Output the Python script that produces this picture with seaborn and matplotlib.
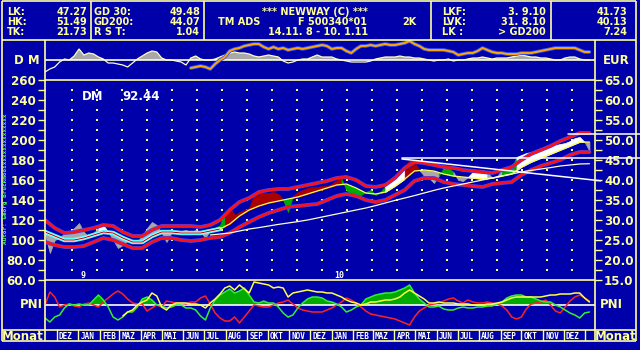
import numpy as np
import pandas as pd
import matplotlib
matplotlib.use("Agg")
import matplotlib.pyplot as plt
import matplotlib.patheffects as pe
from matplotlib.ticker import FixedLocator, FixedFormatter, MultipleLocator
import seaborn as sns

# ---------------- data ----------------
week_dates = pd.date_range("2008-11-14", periods=113, freq="7D")
fortnight_dates = pd.date_range("2008-11-14", periods=57, freq="14D")
month_starts = pd.date_range("2008-12-01", "2011-01-01", freq="MS")
month_labels = ["DEZ", "JAN", "FEB", "MAZ", "APR", "MAI", "JUN", "JUL", "AUG", "SEP", "OKT", "NOV",
                "DEZ", "JAN", "FEB", "MAZ", "APR", "MAI", "JUN", "JUL", "AUG", "SEP", "OKT", "NOV", "DEZ"]
year_labels = ["9", "10"]

price_eur = [26.25, 21.75, 25.0, 25.5, 26.75, 27.0, 28.0, 29.25, 27.0, 25.75,
             26.75, 28.0, 28.75, 27.0, 25.0, 23.0, 23.75, 24.75, 24.5, 24.75,
             26.0, 28.0, 29.5, 28.75, 26.75, 24.5, 26.75, 27.0, 27.25, 27.5,
             27.0, 27.5, 27.0, 25.5, 27.5, 28.0, 28.75, 32.0, 33.25, 31.25,
             32.0, 32.5, 33.0, 36.5, 37.0, 36.75, 36.75, 37.0, 36.5, 35.0,
             32.0, 36.0, 37.0, 37.5, 38.0, 38.25, 38.25, 38.5, 38.5, 39.0,
             40.0, 40.25, 37.5, 36.25, 35.75, 36.25, 37.0, 37.5, 36.25, 37.0,
             38.5, 40.0, 40.75, 41.5, 43.5, 45.0, 44.5, 42.5, 41.0, 40.5,
             39.25, 41.0, 43.0, 43.0, 42.0, 40.0, 39.75, 40.75, 42.0, 42.0,
             42.5, 42.0, 40.5, 41.0, 42.5, 42.75, 43.25, 45.75, 46.25, 46.75,
             47.0, 47.5, 48.0, 47.75, 48.25, 48.75, 49.0, 49.25, 49.75, 50.5,
             50.75, 49.5, 47.27]

band_upper = [30.0, 28.0, 26.75, 27.0, 27.5, 28.0, 28.75, 28.5, 27.0, 26.0,
              26.0, 27.5, 28.5, 28.5, 28.5, 28.5, 28.25, 28.75, 30.0, 32.5,
              34.5, 35.5, 37.0, 37.5, 37.75, 37.75, 38.25, 38.75, 39.25, 39.75,
              40.5, 40.75, 40.0, 38.5, 38.25, 38.75, 40.5, 43.0, 44.5, 44.25,
              43.75, 43.25, 43.0, 42.5, 42.25, 42.0, 41.75, 42.5, 43.25, 45.0,
              46.5, 47.5, 48.5, 49.75, 50.75, 51.75, 51.75]
band_lower = [24.5, 23.75, 23.25, 23.25, 23.5, 24.5, 25.5, 25.0, 24.0, 23.0,
              23.0, 24.5, 25.5, 25.5, 25.0, 24.75, 25.0, 25.5, 25.75, 26.75,
              28.25, 29.5, 30.75, 31.75, 32.5, 33.25, 33.5, 33.75, 34.0, 35.0,
              36.0, 36.5, 36.0, 35.0, 34.5, 35.0, 36.25, 37.5, 39.75, 40.5,
              40.5, 39.5, 39.0, 38.75, 38.5, 38.25, 39.0, 39.25, 39.5, 41.25,
              42.5, 43.5, 44.25, 45.0, 46.25, 47.0, 47.0]
gd30 = [27.0, 26.0, 25.0, 25.0, 25.5, 26.25, 27.0, 26.75, 25.5, 24.5,
        24.5, 26.0, 27.0, 27.0, 26.75, 26.75, 26.75, 27.25, 27.75, 29.0,
        31.0, 32.5, 33.5, 34.25, 34.75, 35.25, 35.75, 36.5, 37.25, 38.0,
        38.75, 39.0, 38.0, 36.75, 36.5, 37.0, 38.5, 40.25, 42.25, 42.5,
        42.25, 41.5, 41.0, 40.75, 40.5, 40.25, 40.5, 41.0, 41.5, 43.25,
        44.5, 45.5, 46.5, 47.5, 48.5, 49.5, 49.5]
gd200 = [np.nan] * 17 + [26.25, 26.5, 26.75, 27.25, 27.75, 28.1, 28.5, 28.9, 29.25, 29.6,
                         30.0, 30.5, 31.0, 31.5, 32.0, 32.5, 33.0, 33.6, 34.25, 34.9,
                         35.5, 36.1, 36.75, 37.4, 38.0, 38.5, 39.0, 39.5, 40.0, 40.5,
                         41.0, 41.5, 42.0, 42.4, 42.75, 43.1, 43.5, 43.75, 44.0, 44.07]

trend_down_days = [514, 800]
trend_down_eur = [45.25, 39.8]
resist_days = [514, 860]
resist_eur = [45.4, 45.4]
high_days = [753, 860]
high_eur = [51.49, 51.49]

dm_rel = [-12, -9, -7, -2, 1, 0, 4, 11, 5, 7,
          6, 3, 1, -3, -3, -4, -5, -7, -3, 1,
          4, 7, 9, 8, 2, 0, 0, -1, -2, -5,
          2, 4, 1, 0, 0, 1, 3, 5, 7, 8,
          7, 7, 6, 4, 3, 4, 5, 4, 3, -1,
          -3, -2, 0, 1, 1, 3, 5, 3, 3, 3,
          1, 0, -1, -2, -2, -2, -2, -1, 1, 2,
          3, 3, 3, 4, 3, 3, 2, 2, 1, 0,
          -1, 0, 0, 1, -1, 0, 0, 1, 2, 2,
          3, 2, 1, 2, 2, 2, 3, 4, 5, 4,
          3, 3, 2, 2, 1, 0, 0, 2, 3, 3,
          1, 0, 0]
eur_rel = [np.nan] * 30 + [-8, -7, -6, -7, -9, -4, 0, 3, 9, 11,
                           12, 14, 15, 16, 16, 13, 11, 13, 11, 12,
                           10, 11, 12, 11, 12, 13, 14, 15, 14, 11,
                           12, 12, 9, 7, 11, 14, 14, 15, 14, 15,
                           16, 15, 15, 16, 17, 19, 16, 14, 11, 10,
                           10, 10, 10, 9, 8, 5, 6, 7, 7, 9,
                           12, 10, 8, 7, 7, 6, 6, 6, 7, 7,
                           7, 8, 9, 10, 11, 12, 12, 12, 12, 12,
                           10, 8, 8]

pni_red = [0, 13, 8, -2, 0, 1, -1, -2, 1, 2,
           0, -2, 3, 7, 11, 14, 11, 6, 2, 1,
           1, -6, -3, 0, -2, 4, 3, 2, 2, 1,
           3, 3, 7, 9, 1, -8, -13, -16, -16, -12,
           -18, -12, -6, 0, -1, -2, -2, 0, 2, 3,
           5, 1, -3, -5, -6, -7, -7, -7, -5, -3,
           0, 3, 7, 5, 2, -2, -6, -9, -10, -11,
           -12, -13, -14, -16, -18, -20, -12, -6, -3, 0,
           1, 2, 4, 6, 7, 4, 2, 5, 3, 2,
           2, 3, 2, 1, -1, -5, -12, -14, -12, -4,
           1, 2, 3, 5, 0, -6, -8, -2, 4, 8,
           10, 7, 4]
pni_green = [-13, -17, -12, -10, -3, 1, 0, 1, 0, 0,
             5, 10, 5, -2, -12, -15, -12, -7, -7, -2,
             6, 8, 5, 0, -1, -3, -2, 0, 0, -3,
             -3, -5, -11, -15, -3, 5, 10, 13, 16, 12,
             14, 17, 10, 3, 2, 4, 2, 2, -2, -8,
             -12, -10, -3, 2, 6, 8, 8, 7, 4, 3,
             1, -2, -7, -5, -2, 0, 6, 8, 10, 11,
             12, 12, 13, 15, 17, 20, 12, 6, 2, -2,
             -2, -1, -4, -5, -5, -3, -2, -3, -3, -2,
             -2, -1, -1, 1, 3, 7, 9, 10, 10, 8,
             8, 6, 4, 3, 3, 0, -2, -5, -8, -10,
             -13, -8, -7]
pni_yellow = [np.nan] * 16 + [-11, -7, -5, 0, 3, 5, 12, 9, -2, -5,
                              0, 2, 2, 2, 1, 1, 0, -3, 2, 6,
                              11, 17, 19, 15, 20, 16, 12, 23, 22, 21,
                              20, 17, 18, 17, 8, 12, 13, 14, 15, 14,
                              13, 13, 12, 12, 10, 8, 5, 3, 2, 0,
                              1, 3, 3, 4, 5, 5, 6, 8, 12, 15,
                              12, 9, 6, 2, 2, 3, 2, 2, 2, 1,
                              1, 1, 0, 0, 0, 1, 1, 2, 3, 5,
                              7, 8, 8, 8, 8, 8, 8, 9, 10, 10,
                              11, 11, 11, 12, 12, 7, 3]

# fill colour runs (week index ranges) between price and GD30
fill_runs = [(0, 11, "g"), (11, 13, "w"), (13, 35, "g"), (35, 37, "n"), (37, 49, "r"),
             (49, 51, "n"), (51, 61, "r"), (61, 70, "n"), (70, 74, "w"), (74, 77, "r"),
             (77, 81, "g"), (81, 84, "n"), (84, 87, "g"), (87, 91, "w"), (91, 94, "g"),
             (94, 97, "n"), (97, 111, "w"), (111, 112, "g")]

# ---------------- style ----------------
BG = "#0000AA"
FG = "#FFFF99"
RUN_COL = {"g": "#A8A8A8", "w": "#FFFFFF", "n": "#00AA00", "r": "#AA0000"}

sns.set_style("dark")
plt.rcParams["font.family"] = ["DejaVu Sans"]
plt.rcParams["font.weight"] = "bold"
MONO = ["DejaVu Sans Mono", "DejaVu Sans"]

W, H = 640, 350
fig = plt.figure(figsize=(6.4, 3.5), dpi=100, facecolor=BG)


def rect(x0, y0, x1, y1):
    return [x0 / W, 1 - y1 / H, (x1 - x0) / W, (y1 - y0) / H]


start = week_dates[0]
wk = np.asarray((week_dates - start).days, dtype=float)
fw = np.asarray((fortnight_dates - start).days, dtype=float)
mdays = np.asarray((month_starts - start).days, dtype=float)
XLIM = (0, 792)


def line(ax, x, y, **kw):
    y = np.asarray(y, dtype=float)
    m = ~np.isnan(y)
    sns.lineplot(x=np.asarray(x)[m], y=y[m], ax=ax, legend=False, errorbar=None, **kw)
    return ax.lines[-1]


def clean(ax):
    ax.set_facecolor("none")
    for s in ax.spines.values():
        s.set_visible(False)
    ax.set_xlim(*XLIM)
    ax.set_xticks([])
    ax.set_xlabel("")
    ax.set_ylabel("")
    ax.grid(False)


# ---------------- top DM panel ----------------
axd = fig.add_axes(rect(45, 40, 595, 80))
dm = np.asarray(dm_rel, dtype=float)
axd.fill_between(wk, dm, 0, where=dm > 0, interpolate=True, color="#A8A8A8", lw=0, zorder=1)
line(axd, wk, dm, color="#FFFFCC", linewidth=0.9, zorder=2)
axd.axhline(0, color="#FFFFDD", lw=1.2, zorder=3)
ol = line(axd, wk, eur_rel, color="#FFA500", linewidth=1.4, zorder=4)
ol.set_path_effects([pe.Stroke(linewidth=2.6, foreground="#3355FF"), pe.Normal()])
clean(axd)
axd.set_ylim(-20, 20)
axd.set_yticks([])

# ---------------- main price panel ----------------
ax = fig.add_axes(rect(45, 80, 595, 280))
clean(ax)
ax.set_ylim(15, 65)

dot_days = np.arange(38.5, 780, 36)
dot_eur = np.arange(17.5, 63, 2.5)
DX, DY = np.meshgrid(dot_days, dot_eur)
ax.scatter(DX.ravel(), DY.ravel(), s=0.7, marker="s", color=FG, linewidths=0, zorder=1)

pr = np.asarray(price_eur, dtype=float)
ma_w = np.interp(wk, fw, gd30)
for a, b, c in fill_runs:
    ax.fill_between(wk[a:b + 1], pr[a:b + 1], ma_w[a:b + 1], color=RUN_COL[c],
                    lw=0.5, edgecolor=RUN_COL[c], zorder=2)

line(ax, fw[:19], gd30[:19], color="#55FFFF", linewidth=3.2, zorder=3)
line(ax, fw[:19], gd30[:19], color="#FFFFFF", linewidth=1.4, zorder=3)
line(ax, fw[:19], gd30[:19], color="#AA0000", linewidth=0.7, zorder=3)
line(ax, fw[18:], gd30[18:], color="#FFFF55", linewidth=0.9, zorder=3)

for band in (band_upper, band_lower):
    ln = line(ax, fw, band, color="#FF1010", linewidth=1.9, zorder=4)
    ln.set_path_effects([pe.Stroke(linewidth=2.8, foreground="#4040FF"), pe.Normal()])

line(ax, fw, gd200, color="#FFFFCC", linewidth=0.9, zorder=5)
ax.plot(trend_down_days, trend_down_eur, color="white", lw=1.1, zorder=6, clip_on=False)
ax.plot(resist_days, resist_eur, color="white", lw=1.1, zorder=6, clip_on=False)
ax.plot(high_days, high_eur, color="white", lw=1.1, zorder=6, clip_on=False)

jan_days = [mdays[1], mdays[13]]
for d, t in zip(jan_days, year_labels):
    ax.text(d + 3, 16.0, t, color="white", fontsize=6, ha="left", va="center", family=MONO)

# right axis (EUR) and left axis
ax.yaxis.tick_right()
ax.yaxis.set_major_locator(FixedLocator(np.arange(15, 66, 5)))
ax.yaxis.set_major_formatter(FixedFormatter([f"{v:.1f}" for v in np.arange(15, 66, 5)]))
ax.yaxis.set_minor_locator(MultipleLocator(2.5))
ax.tick_params(axis="y", which="both", direction="out", length=5, width=1,
               colors=FG, labelsize=8.6, pad=1.5)
sec = ax.secondary_yaxis("left", functions=(lambda e: e * 4, lambda d: d / 4))
left_ticks = np.arange(60, 261, 20)
sec.yaxis.set_major_locator(FixedLocator(left_ticks))
sec.yaxis.set_major_formatter(FixedFormatter([f"{v:.1f}" if v < 100 else f"{v:d}" for v in left_ticks]))
sec.yaxis.set_minor_locator(MultipleLocator(10))
sec.tick_params(axis="y", which="both", direction="out", length=5, width=1,
                colors=FG, labelsize=8.6, pad=1.5)
for s in sec.spines.values():
    s.set_visible(False)

# ---------------- PNI panel ----------------
axp = fig.add_axes(rect(45, 280, 595, 330))
clean(axp)
axp.set_ylim(-25, 25)
axp.set_yticks([])
gr = np.asarray(pni_green, dtype=float)
axp.fill_between(wk, gr, 0, where=gr > 0, interpolate=True, color="#00AA00", lw=0, zorder=1)
axp.axhline(0, color="white", lw=1.2, zorder=2)
line(axp, wk, pni_red, color="#FF2222", linewidth=1.1, zorder=3)
line(axp, wk, pni_green, color="#33EE33", linewidth=1.1, zorder=3)
line(axp, wk, pni_yellow, color="#FFFF44", linewidth=1.1, zorder=4)

# ---------------- month bar ----------------
axm = fig.add_axes(rect(45, 330, 595, 341))
clean(axm)
axm.set_ylim(0, 1)
axm.set_yticks([])
for d in mdays:
    axm.axvline(d, color=FG, lw=1)
for d, lab in zip(mdays[:-1], month_labels):
    axm.text(d + 3, 0.45, lab, color="white", fontsize=5.5, ha="left", va="center", family=MONO)

# ---------------- frame and header ----------------
fr = fig.add_axes([0, 0, 1, 1], zorder=10)
fr.set_xlim(0, W)
fr.set_ylim(H, 0)
fr.axis("off")
fr.patch.set_alpha(0)


def seg(x0, y0, x1, y1, c=FG, lw=1.2):
    fr.plot([x0, x1], [y0, y1], color=c, lw=lw, solid_capstyle="butt")


seg(2, 1, 636, 1)
seg(2, 40, 636, 40)
for xv in (90.5, 204, 430.5, 551):
    seg(xv, 1, xv, 40)
seg(2, 1, 2, 341)
seg(636, 1, 636, 341)
seg(45, 40, 45, 341)
seg(595, 40, 595, 341)
seg(45, 80, 595, 80)
seg(45, 280, 595, 280)
seg(2, 330, 636, 330)
seg(2, 341, 636, 341)

fs = 7.0
rows = [12, 22, 32]
for y, lab, val in zip(rows, ["LK:", "HK:", "TK:"], ["47.27", "51.49", "21.73"]):
    fr.text(7, y, lab, color=FG, fontsize=fs, ha="left", va="center")
    fr.text(87, y, val, color=FG, fontsize=fs, ha="right", va="center")
for y, lab, val in zip(rows, ["GD 30:", "GD200:", "R S T:"], ["49.48", "44.07", "1.04"]):
    fr.text(94, y, lab, color=FG, fontsize=fs, ha="left", va="center")
    fr.text(200, y, val, color=FG, fontsize=fs, ha="right", va="center")
fr.text(315, 12, "*** NEWWAY (C) ***", color=FG, fontsize=fs, ha="center", va="center")
fr.text(218, 22, "TM ADS", color=FG, fontsize=fs, ha="left", va="center")
fr.text(298, 22, "F 500340*01", color=FG, fontsize=fs, ha="left", va="center")
fr.text(402, 22, "2K", color=FG, fontsize=fs, ha="left", va="center")
fr.text(318, 32, "14.11. 8 - 10. 1.11", color=FG, fontsize=fs, ha="center", va="center")
for y, lab, val in zip(rows, ["LKF:", "LVK:", "LK :"], ["3. 9.10", "31. 8.10", "> GD200"]):
    fr.text(442, y, lab, color=FG, fontsize=fs, ha="left", va="center")
    fr.text(546, y, val, color=FG, fontsize=fs, ha="right", va="center")
for y, val in zip(rows, ["41.73", "40.13", "7.24"]):
    fr.text(627, y, val, color=FG, fontsize=fs, ha="right", va="center")

fs2 = 8.5
fr.text(27, 61, "D M", color=FG, fontsize=fs2, ha="center", va="center")
fr.text(616, 61, "EUR", color=FG, fontsize=fs2, ha="center", va="center")
fr.text(31, 305, "PNI", color=FG, fontsize=fs2, ha="center", va="center")
fr.text(611, 305, "PNI", color=FG, fontsize=fs2, ha="center", va="center")
fr.text(23, 336, "Monat", color=FG, fontsize=fs2, ha="center", va="center")
fr.text(616, 336, "Monat", color=FG, fontsize=fs2, ha="center", va="center")
fr.text(82, 96, "DM", color="white", fontsize=fs2, ha="left", va="center")
fr.text(122, 96, "92.44", color="white", fontsize=fs2, ha="left", va="center")
fr.text(6, 179, "Autor: Georg Bruckmoos" + "x" * 14, color="#55FF55", fontsize=4.3,
        rotation=90, ha="center", va="center", family=MONO)

fig.savefig("out.png", dpi=100, facecolor=BG)
